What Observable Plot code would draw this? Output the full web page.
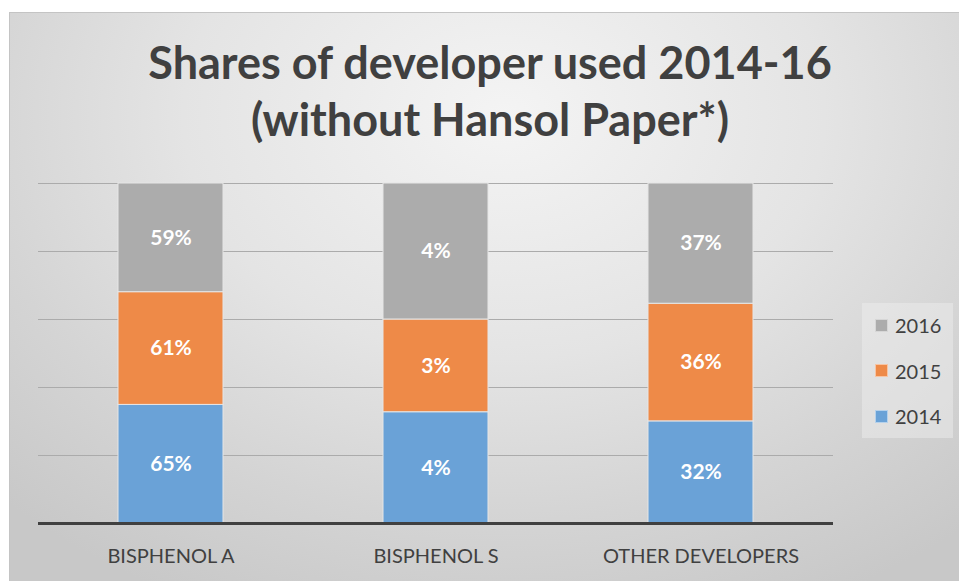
<!DOCTYPE html>
<html>
<head>
<meta charset="utf-8">
<script src="https://cdn.jsdelivr.net/npm/d3@7"></script>
<script src="https://cdn.jsdelivr.net/npm/@observablehq/plot@0.6"></script>
<style>
  html, body { margin: 0; padding: 0; background: #fff; }
  #page { position: relative; width: 959px; height: 581px; overflow: hidden; font-family: Lato, "Open Sans", sans-serif; }
  #bg { position: absolute; left: 9px; top: 12px; width: 950px; height: 569px;
        border-top: 1px solid #c4c4c4; border-left: 1px solid #c4c4c4;
        background: radial-gradient(ellipse 75% 95% at 52% 18%, #f4f4f4 0%, #e4e4e4 45%, #d4d4d4 75%, #c8c8c8 100%); }
  .title { position: absolute; left: 0; width: 980px; text-align: center; font-weight: 700; font-size: 45px; line-height: 58px; color: #404040; white-space: nowrap; }
  #chart { position: absolute; left: 0; top: 160px; }
  #legend { position: absolute; left: 862px; top: 303px; width: 91px; height: 135px; background: rgba(240,240,240,0.45); }
  .item { position: absolute; left: 13px; height: 24px; display: flex; align-items: center; font-size: 20px; color: #404040; }
  .sw { width: 13px; height: 13px; margin-right: 7px; box-sizing: border-box; border: 1px solid rgba(255,255,255,0.5); }
</style>
</head>
<body>
<div id="page">
  <div id="bg"></div>
  <div class="title" style="top:33px">Shares of developer used 2014-16</div>
  <div class="title" style="top:90px">(without Hansol Paper*)</div>
  <div id="chart"></div>
  <div id="legend"></div>
</div>
<script>
const categories = ["BISPHENOL A", "BISPHENOL S", "OTHER DEVELOPERS"];
const years = ["2014", "2015", "2016"];
const v2014 = [64.6, 3.6, 31.6];
const v2015 = [61.4, 3.0, 36.4];
const v2016 = [59.2, 4.4, 37.2];
const colors = ["#6AA2D7", "#EE8A48", "#ACACAC"];
const gridTicks = [0.2, 0.4, 0.6, 0.8, 1.0];

const series = [v2014, v2015, v2016];
const data = [];
years.forEach((yr, j) => categories.forEach((c, i) => data.push({cat: c, year: yr, value: series[j][i]})));

const chart = Plot.plot({
  width: 959,
  height: 421,
  marginLeft: 38,
  marginRight: 126,
  marginTop: 23,
  marginBottom: 58,
  style: {background: "transparent", fontFamily: "Lato, 'Open Sans', sans-serif"},
  x: {domain: categories, paddingInner: 0.604, paddingOuter: 0.302, label: null, axis: null},
  y: {domain: [0, 1], axis: null},
  color: {domain: years, range: colors},
  marks: [
    Plot.ruleY(gridTicks, {stroke: "#ababab", strokeWidth: 1}),
    Plot.barY(data, {x: "cat", y: "value", fill: "year", offset: "normalize", stroke: "#e6e6e6", strokeWidth: 1}),
    Plot.text(data, Plot.stackY({x: "cat", y: "value", offset: "normalize", text: d => Math.round(d.value) + "%", fill: "white", fontWeight: 700, fontSize: 21})),
    Plot.ruleY([0], {stroke: "#404040", strokeWidth: 3}),
    Plot.axisX({tickSize: 0, tickPadding: 25, fontSize: 20, fill: "#404040", label: null})
  ]
});
document.getElementById("chart").appendChild(chart);

const legend = document.getElementById("legend");
const order = [2, 1, 0];
order.forEach((j, k) => {
  const it = document.createElement("div");
  it.className = "item";
  it.style.top = (10 + k * 45.5) + "px";
  const sw = document.createElement("div");
  sw.className = "sw";
  sw.style.background = colors[j];
  const lbl = document.createElement("span");
  lbl.textContent = years[j];
  it.appendChild(sw); it.appendChild(lbl);
  legend.appendChild(it);
});
</script>
</body>
</html>
